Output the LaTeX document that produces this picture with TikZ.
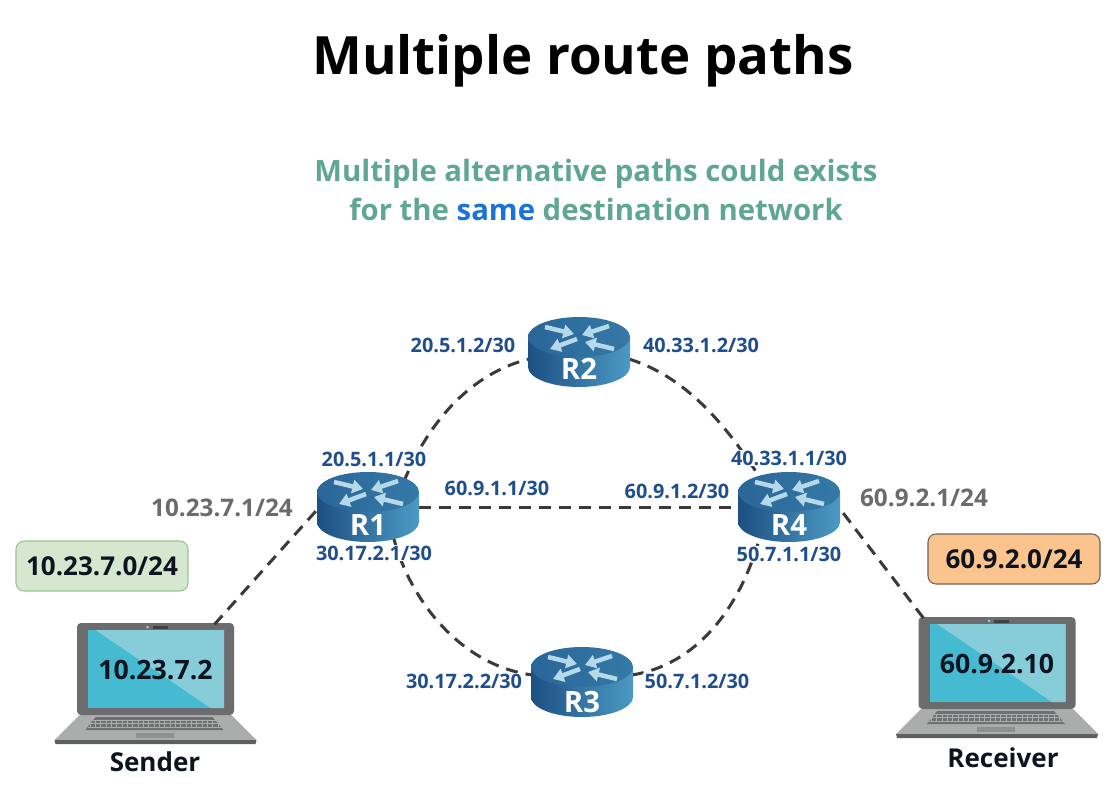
\documentclass[tikz,border=0pt]{standalone}
\usepackage{fontspec}
\setmainfont{Open Sans}
\usetikzlibrary{arrows.meta,shapes.geometric}
\definecolor{subgreen}{HTML}{5FA88F}
\definecolor{sameblue}{HTML}{1A73D9}
\definecolor{ifblue}{HTML}{1F4E8C}
\definecolor{netgrey}{HTML}{6B6B6B}
\definecolor{linkcol}{HTML}{3A3A3A}
\definecolor{inkcol}{HTML}{0D1420}
\definecolor{bodyL}{HTML}{1D4F82}
\definecolor{bodyM}{HTML}{2A6A9A}
\definecolor{bodyR}{HTML}{4C9AC4}
\definecolor{topL}{HTML}{2A6698}
\definecolor{topR}{HTML}{3579A6}
\definecolor{arrowcol}{HTML}{B5D9E8}
\definecolor{lidcol}{HTML}{6C6C6E}
\definecolor{basecol}{HTML}{ABADAC}
\definecolor{stripcol}{HTML}{5E6060}
\definecolor{keycol}{HTML}{6F7072}
\definecolor{padcol}{HTML}{8F9190}
\definecolor{scrdark}{HTML}{45BAD0}
\definecolor{scrlight}{HTML}{86CDD9}
\definecolor{greenfill}{HTML}{D5E8CF}
\definecolor{greenedge}{HTML}{9CC490}
\definecolor{orangefill}{HTML}{FBC48E}
\definecolor{orangeedge}{HTML}{6F6355}
\tikzset{
  x=0.75pt,y=-0.75pt,
  anchorzone/.style={ellipse,minimum width=76.5pt,minimum height=52.5pt,inner sep=0pt,outer sep=0pt},
  lidzone/.style={rectangle,minimum width=117.75pt,minimum height=69pt,inner sep=0pt,outer sep=0pt,font=\bfseries\fontsize{20}{24}\selectfont,text=inkcol},
  link/.style={draw=linkcol,line width=2.25pt,dash pattern=on 9pt off 6pt},
  iflabel/.style={font=\bfseries\fontsize{14.9}{18}\selectfont,text=ifblue,fill=white,inner xsep=1pt,inner ysep=0.5pt},
  netlabel/.style={font=\bfseries\fontsize{18.2}{22}\selectfont,text=netgrey,fill=white,inner sep=1pt},
  netbox/.style={rectangle,rounded corners=6pt,minimum width=129pt,minimum height=37.5pt,line width=0.8pt,font=\bfseries\fontsize{19.5}{23}\selectfont,text=inkcol},
  devname/.style={font=\bfseries\fontsize{19.5}{23}\selectfont,text=inkcol},
  rname/.style={font=\bfseries\fontsize{22}{26}\selectfont,text=white},
  rarrow/.style={draw=arrowcol,line width=3.4pt,-{Triangle[length=8pt,width=10pt]}},
  routerpic/.pic={
    \path[left color=bodyL,middle color=bodyM,right color=bodyR]
      (-51,-15) -- (-51,15) .. controls (-51,26) and (-28,35) .. (0,35)
      .. controls (28,35) and (51,26) .. (51,15) -- (51,-15) -- cycle;
    \path[left color=topL,right color=topR] (0,-15) ellipse[x radius=51,y radius=20];
    \draw[rarrow] (-34,-25) -- (-5,-18);
    \draw[rarrow] (30,-26) -- (3,-17);
    \draw[rarrow] (-2,-13) -- (-29,-3);
    \draw[rarrow] (35,-3) -- (6,-10);
  },
  laptoppic/.pic={
    \fill[basecol] (-76,92) -- (76,92) -- (101,117) -- (-101,117) -- cycle;
    \fill[stripcol] (-101,117) -- (101,117) -- (100,121) -- (-100,121) -- cycle;
    \fill[keycol] (-60,94) -- (57,94) -- (68,107) -- (-70,107) -- cycle;
    \foreach \ky/\kl/\kr in {97/-63/60,100.5/-65/63,104/-68/66}
      \draw[basecol,line width=0.4pt] (\kl,\ky) -- (\kr,\ky);
    \draw[basecol,line width=4.5pt,dash pattern=on 0.6pt off 3.4pt] (-66,100.5) -- (64,100.5);
    \fill[padcol] (-20,110) -- (18,110) -- (18,115) -- (-20,115) -- cycle;
    \fill[lidcol,rounded corners=3pt] (-78.5,0) rectangle (78.5,92);
    \fill[scrdark] (-67.5,7) rectangle (68.5,85);
    \fill[scrlight] (-67.5,7) -- (68.5,7) -- (68.5,85) -- (55,85) -- (-60,7) -- cycle;
    \fill[black!75] (-3,3) rectangle (12,5.5);
    \fill[scrlight] (-8,4) circle (1.5);
  },
}
\begin{document}
\begin{tikzpicture}
\useasboundingbox (0,0) rectangle (1120,806);
\fill[white] (0,0) rectangle (1120,806);
% anchor zones
\node[anchorzone] (R1) at (368,507) {};
\node[anchorzone] (R2) at (579,352) {};
\node[anchorzone] (R3) at (582,682) {};
\node[anchorzone] (R4) at (789,507) {};
% connectors
\draw[link] (R1.35) .. controls (425,430) and (465,375) .. (R2.188);
\draw[link] (R2.352) .. controls (680,375) and (720,415) .. (R4.135);
\draw[link] (R1.310) .. controls (410,600) and (460,665) .. (R3.172);
\draw[link] (R3.8) .. controls (695,665) and (740,610) .. (R4.225);
\draw[link] (R1.east) -- (R4.west);
% router graphics
\pic at (368,507) {routerpic};
\pic at (579,352) {routerpic};
\pic at (582,682) {routerpic};
\pic at (789,507) {routerpic};
\node[rname] (R1t) at (368,525) {R1};
\node[rname] (R2t) at (579,369) {R2};
\node[rname] (R3t) at (582,702) {R3};
\node[rname] (R4t) at (789,525) {R4};
% laptops
\pic at (155.5,623) {laptoppic};
\pic at (997,617) {laptoppic};
\node[lidzone] (Snd) at (155.5,670.5) {10.23.7.2};
\node[lidzone] (Rcv) at (997,664) {60.9.2.10};
\draw[link] (Snd.38) -- (R1.183);
\draw[link] (Rcv.148) -- (R4.358);
\node[devname] (SndName) at (155,762) {Sender};
\node[devname] (RcvName) at (1003,758) {Receiver};
% boxes
\node[netbox,draw=greenedge,fill=greenfill] (NetS) at (102,566) {10.23.7.0/24};
\node[netbox,draw=orangeedge,fill=orangefill] (NetR) at (1014,559) {60.9.2.0/24};
% labels
\node[iflabel] (a1) at (463,345) {20.5.1.2/30};
\node[iflabel] (a2) at (701,345) {40.33.1.2/30};
\node[iflabel] (a3) at (374,459) {20.5.1.1/30};
\node[iflabel] (a4) at (497,488) {60.9.1.1/30};
\node[iflabel] (a5) at (677,491) {60.9.1.2/30};
\node[iflabel] (a6) at (789,458) {40.33.1.1/30};
\node[iflabel] (a7) at (374,553) {30.17.2.1/30};
\node[iflabel] (a8) at (789,554) {50.7.1.1/30};
\node[iflabel] (a9) at (464,681) {30.17.2.2/30};
\node[iflabel] (a10) at (697,681) {50.7.1.2/30};
\node[netlabel] (g1) at (222,508) {10.23.7.1/24};
\node[netlabel] (g2) at (924,498) {60.9.2.1/24};
% titles
\node[font=\bfseries\fontsize{39.6}{46}\selectfont,text=black] (title) at (583,61) {Multiple route paths};
\node[font=\bfseries\fontsize{22}{28}\selectfont,text=subgreen] (sub1) at (596,174) {Multiple alternative paths could exists};
\node[font=\bfseries\fontsize{22}{28}\selectfont,text=subgreen] (sub2) at (596,209) {for the \textcolor{sameblue}{same} destination network};
\end{tikzpicture}
\end{document}
